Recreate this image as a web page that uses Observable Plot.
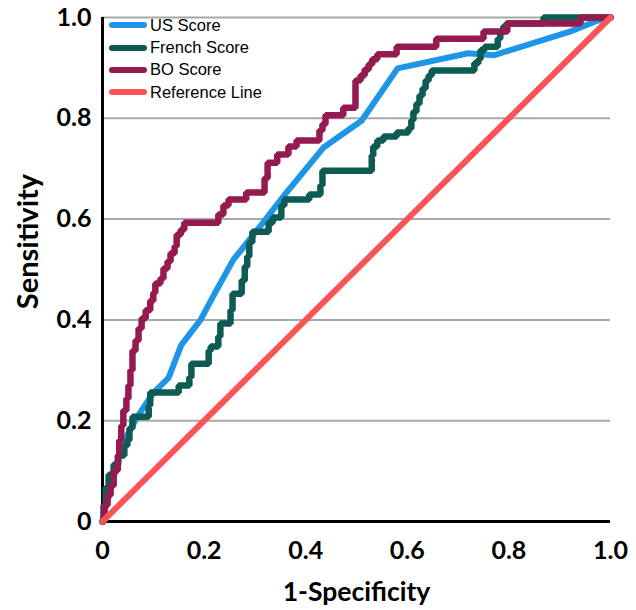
<!DOCTYPE html>
<html><head><meta charset="utf-8">
<script src="https://cdn.jsdelivr.net/npm/d3@7"></script>
<script src="https://cdn.jsdelivr.net/npm/@observablehq/plot@0.6"></script>
<style>
body{margin:0;background:#fff;}
#wrap{position:relative;width:636px;height:610px;}
#legend{position:absolute;left:109px;top:14px;font-family:"Liberation Sans",Arial,sans-serif;font-size:16.5px;color:#000;}
.item{display:flex;align-items:center;height:22.4px;}
.sw{width:38px;height:6px;border-radius:3px;margin-right:3px;}
</style></head>
<body><div id="wrap"><div id="chart"></div><div id="legend"></div></div>
<script>
const seriesNames = ["US Score","French Score","BO Score","Reference Line"];
const seriesColors = ["#1f95e8","#0d5b52","#951a50","#fa5457"];
const ticks = [0,0.2,0.4,0.6,0.8,1];

const usX = [0,0.004,0.04,0.07,0.1,0.13,0.155,0.193,0.225,0.258,0.31,0.36,0.435,0.51,0.581,0.72,0.77,0.92,0.975,1];
const usY = [0,0.02,0.155,0.21,0.255,0.285,0.35,0.40,0.46,0.52,0.585,0.65,0.742,0.795,0.899,0.929,0.925,0.972,0.994,1];

const frX = [0,0.002,0.006,0.012,0.022,0.031,0.043,0.049,0.053,0.059,0.091,0.094,0.150,0.171,0.175,0.209,0.213,0.228,0.232,0.252,0.256,0.274,0.280,0.285,0.289,0.295,0.327,0.335,0.352,0.358,0.407,0.429,0.433,0.530,0.533,0.541,0.553,0.579,0.602,0.608,0.612,0.618,0.624,0.630,0.636,0.642,0.648,0.732,0.740,0.744,0.752,0.778,0.783,0.789,0.795,0.868,1];
const frY = [0,0.032,0.067,0.093,0.113,0.131,0.151,0.161,0.185,0.208,0.230,0.256,0.270,0.286,0.313,0.339,0.347,0.367,0.393,0.419,0.452,0.478,0.506,0.526,0.554,0.575,0.593,0.603,0.627,0.639,0.649,0.667,0.696,0.726,0.744,0.756,0.764,0.772,0.780,0.796,0.813,0.829,0.845,0.859,0.875,0.885,0.895,0.909,0.917,0.935,0.942,0.958,0.970,0.982,0.988,1.0,1];

const boX = [0,0.004,0.010,0.016,0.022,0.030,0.033,0.037,0.041,0.047,0.051,0.055,0.059,0.065,0.071,0.077,0.085,0.094,0.100,0.104,0.114,0.120,0.128,0.134,0.142,0.146,0.154,0.161,0.228,0.238,0.248,0.283,0.319,0.325,0.344,0.366,0.382,0.427,0.433,0.439,0.474,0.498,0.508,0.516,0.524,0.531,0.541,0.579,0.657,0.750,0.797,0.941,1];
const boY = [0,0.032,0.052,0.071,0.101,0.131,0.161,0.190,0.220,0.244,0.270,0.300,0.339,0.359,0.383,0.403,0.419,0.438,0.454,0.472,0.482,0.502,0.516,0.532,0.546,0.569,0.579,0.593,0.609,0.627,0.639,0.653,0.681,0.712,0.728,0.744,0.756,0.776,0.788,0.806,0.821,0.875,0.885,0.897,0.907,0.917,0.927,0.942,0.958,0.972,0.988,1.0,1];

const refX = [0,1];
const refY = [0,1];

const toRows = (xs, ys) => xs.map((x,i) => ({x, y: ys[i]}));
const fmt = d => d === 0 ? "0" : d.toFixed(1);
const tickFont = {fontSize: 25, fontWeight: "bold"};

const chart = Plot.plot({
  width: 636, height: 610,
  marginLeft: 102, marginRight: 26, marginTop: 17, marginBottom: 89,
  style: {fontFamily: "Lato, 'Open Sans', sans-serif", color: "#000", background: "#fff"},
  x: {domain: [0,1]},
  y: {domain: [0,1]},
  marks: [
    Plot.gridY(ticks.filter(d => d > 0), {stroke: "#a8a8a8", strokeOpacity: 1, strokeWidth: 2}),
    Plot.axisY({ticks, tickFormat: fmt, tickSize: 0, tickPadding: 11, label: null, ...tickFont}),
    Plot.axisX({ticks, tickFormat: fmt, tickSize: 0, tickPadding: 20, label: null, ...tickFont}),
    Plot.text(["Sensitivity"], {frameAnchor: "left", textAnchor: "middle", lineAnchor: "middle", rotate: -90, dx: -74, dy: -28, fontSize: 29, fontWeight: "bold", fill: "#000"}),
    Plot.text(["1-Specificity"], {frameAnchor: "bottom", textAnchor: "middle", lineAnchor: "middle", dy: 71, fontSize: 26.5, fontWeight: "bold", fill: "#000"}),
    Plot.ruleX([0], {stroke: "#000", strokeWidth: 3}),
    Plot.ruleY([0], {stroke: "#000", strokeWidth: 3}),
    Plot.line(toRows(usX, usY), {x: "x", y: "y", stroke: seriesColors[0], strokeWidth: 6}),
    Plot.line(toRows(frX, frY), {x: "x", y: "y", stroke: seriesColors[1], strokeWidth: 6.5, curve: "step-after", strokeLinejoin: "miter"}),
    Plot.line(toRows(boX, boY), {x: "x", y: "y", stroke: seriesColors[2], strokeWidth: 6.5, curve: "step-after", strokeLinejoin: "miter"}),
    Plot.line(toRows(refX, refY), {x: "x", y: "y", stroke: seriesColors[3], strokeWidth: 6})
  ]
});
document.getElementById("chart").append(chart);

const lg = d3.select("#legend");
seriesNames.forEach((n, i) => {
  const it = lg.append("div").attr("class", "item");
  it.append("div").attr("class", "sw").style("background", seriesColors[i]);
  it.append("span").text(n);
});
</script>
</body></html>
